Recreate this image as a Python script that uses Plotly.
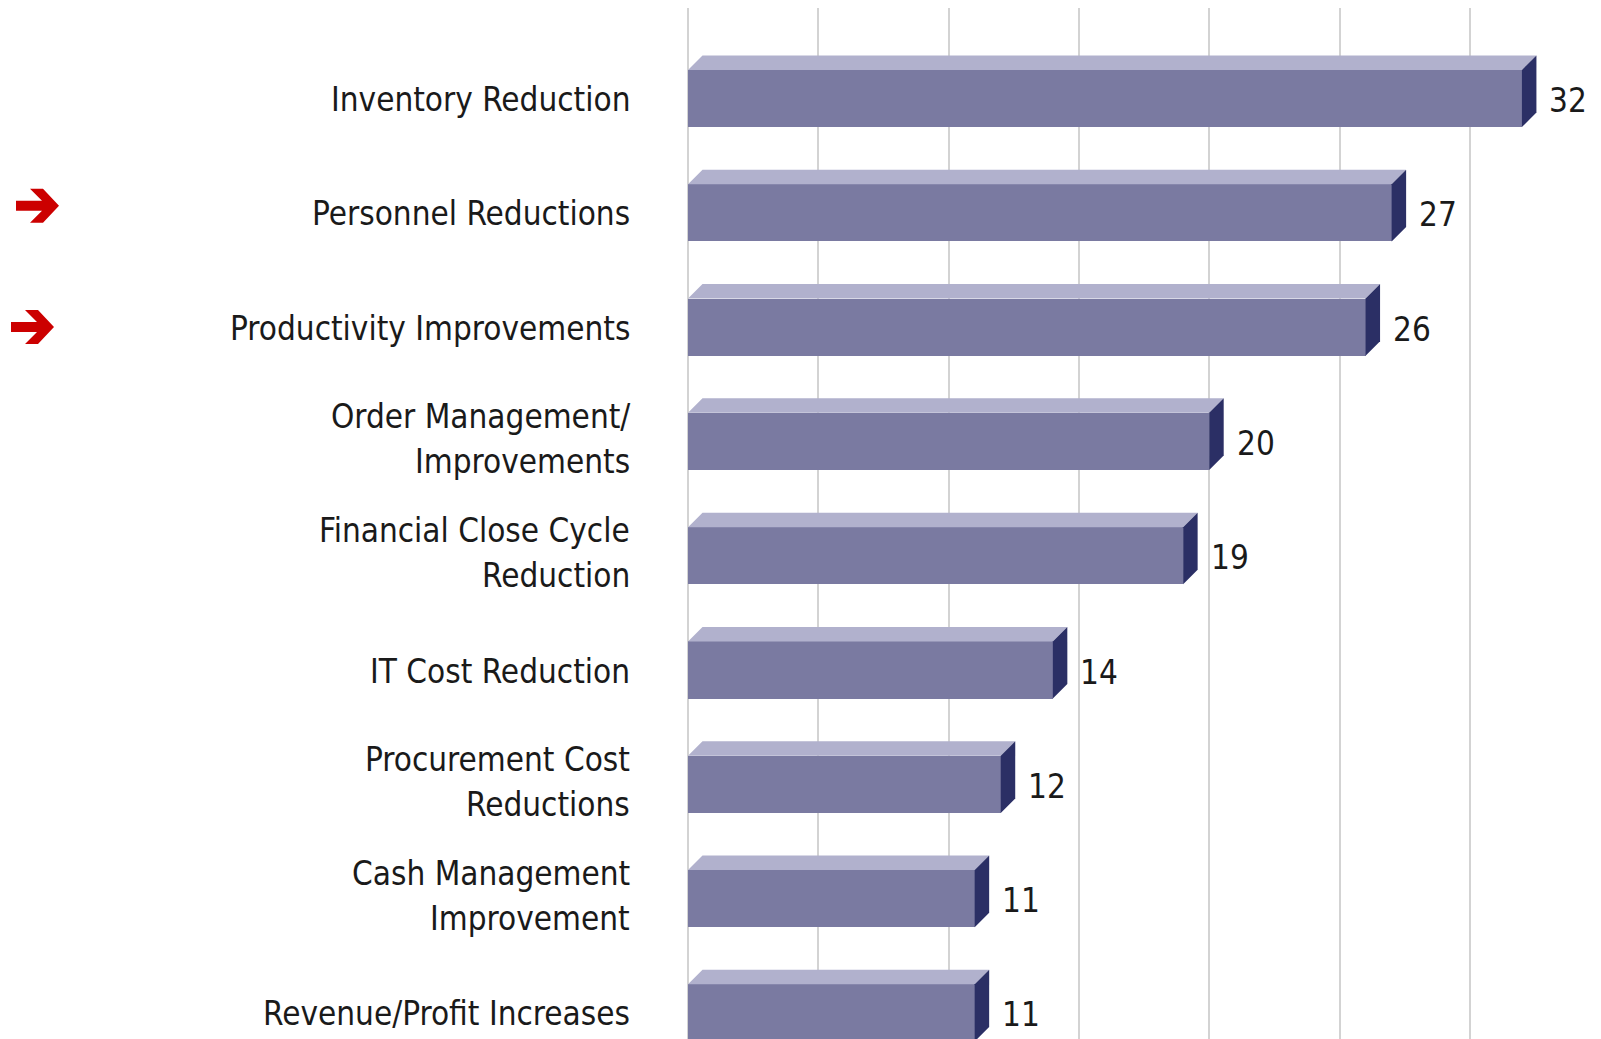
import plotly.graph_objects as go

# ---- data ----
categories = [
    "Inventory Reduction",
    "Personnel Reductions",
    "Productivity Improvements",
    "Order Management/<br>Improvements",
    "Financial Close Cycle<br>Reduction",
    "IT Cost Reduction",
    "Procurement Cost<br>Reductions",
    "Cash Management<br>Improvement",
    "Revenue/Profit Increases",
]
values = [32, 27, 26, 20, 19, 14, 12, 11, 11]
highlighted = ["Personnel Reductions", "Productivity Improvements"]
x_ticks = [0, 5, 10, 15, 20, 25, 30]

# ---- layout constants (page has an 8px body margin) ----
W, H = 1593, 1031
ML, MR, MT, MB = 680, 0, 0, 0
PX_PER_UNIT_X = 26.06
PX_PER_ROW = 114.3
plot_w = W - ML - MR
plot_h = H - MT - MB
x_range = [0, plot_w / PX_PER_UNIT_X]
first_row_px = 90.5  # centre of first row, figure px
y_top = -(first_row_px - MT) / PX_PER_ROW
y_range = [y_top + plot_h / PX_PER_ROW, y_top]

BAR_W = 0.5
DEPTH_PX = 14.5
dx = DEPTH_PX / PX_PER_UNIT_X
dy = DEPTH_PX / PX_PER_ROW

FRONT = "#7a7aa1"
TOP = "#b1b1cd"
SIDE = "#2b2f65"
FONT = "Liberation Sans Narrow, DejaVu Sans Condensed, Arial Narrow, sans-serif"
FS = 33

ypos = list(range(len(categories)))

fig = go.Figure()
fig.add_trace(go.Bar(
    x=values, y=ypos, orientation="h", width=BAR_W, base=0,
    marker=dict(color=FRONT, line=dict(width=0)), hoverinfo="skip",
))

for v, c in zip(values, ypos):
    top = c - BAR_W / 2
    bot = c + BAR_W / 2
    fig.add_trace(go.Scatter(
        x=[0, v, v + dx, dx, 0], y=[top, top, top - dy, top - dy, top],
        fill="toself", fillcolor=TOP, mode="lines", line=dict(width=0),
        hoverinfo="skip", showlegend=False,
    ))
    fig.add_trace(go.Scatter(
        x=[v, v + dx, v + dx, v, v], y=[top, top - dy, bot - dy, bot, top],
        fill="toself", fillcolor=SIDE, mode="lines", line=dict(width=0),
        hoverinfo="skip", showlegend=False,
    ))
    fig.add_annotation(
        x=v + dx, y=c, xref="x", yref="y", text=str(v), showarrow=False,
        xanchor="left", yanchor="middle", xshift=11, yshift=-2,
        font=dict(family=FONT, size=FS, color="#1a1a1a"),
    )

# category labels (one annotation per line for tight line spacing)
for cat, c in zip(categories, ypos):
    lines = cat.split("<br>")
    shifts = [-1] if len(lines) == 1 else [25, -20]
    for ln, s in zip(lines, shifts):
        fig.add_annotation(
            x=0, y=c, xref="paper", yref="y", text=ln, showarrow=False,
            xanchor="right", yanchor="middle", xshift=-56, yshift=s,
            font=dict(family=FONT, size=FS, color="#1a1a1a"),
        )

# red arrows next to highlighted categories
arrow_pts = [(0, -5), (26, -5), (14, -17), (27, -17), (43, 0),
             (27, 17), (14, 17), (26, 5), (0, 5)]
arrow_offsets = [(-672, 7), (-677, 0)]
for cat, (ox, oy) in zip(highlighted, arrow_offsets):
    c = categories.index(cat)
    path = "M " + " L ".join(f"{px + ox},{py + oy}" for px, py in arrow_pts) + " Z"
    fig.add_shape(
        type="path", path=path, xref="paper", yref="y",
        xsizemode="pixel", ysizemode="pixel", xanchor=0, yanchor=c,
        fillcolor="#cc0000", line=dict(width=0), layer="above",
    )

fig.update_layout(
    width=W, height=H,
    margin=dict(l=ML, r=MR, t=MT, b=MB, pad=0),
    paper_bgcolor="white", plot_bgcolor="white",
    showlegend=False, bargap=0,
    xaxis=dict(range=x_range, tickvals=x_ticks, showticklabels=False,
               showgrid=True, gridcolor="#d3d3d3", gridwidth=2,
               zeroline=True, zerolinecolor="#d3d3d3", zerolinewidth=2,
               showline=False, fixedrange=True),
    yaxis=dict(range=y_range, showticklabels=False, showgrid=False,
               zeroline=False, showline=False, fixedrange=True),
)

fig.write_html("out.html")
